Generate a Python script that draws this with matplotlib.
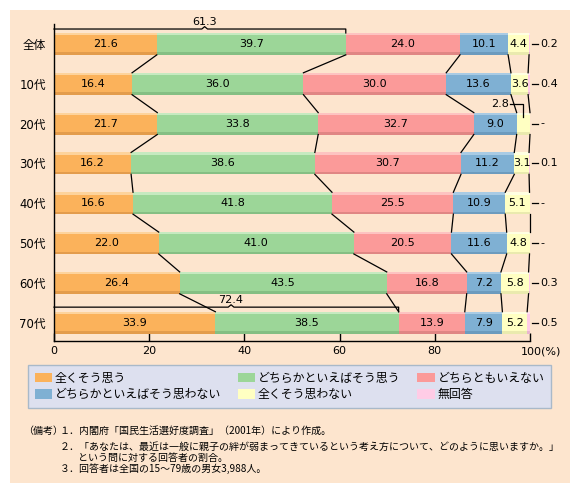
import matplotlib

matplotlib.use("Agg")
import matplotlib.pyplot as plt
from matplotlib.patches import Rectangle, Patch

plt.rcParams["font.family"] = ["DejaVu Sans", "Noto Sans CJK JP"]

rows = ["全体", "10代", "20代", "30代", "40代", "50代", "60代", "70代"]
strongly_agree = [21.6, 16.4, 21.7, 16.2, 16.6, 22.0, 26.4, 33.9]
somewhat_agree = [39.7, 36.0, 33.8, 38.6, 41.8, 41.0, 43.5, 38.5]
neither = [24.0, 30.0, 32.7, 30.7, 25.5, 20.5, 16.8, 13.9]
somewhat_disagree = [10.1, 13.6, 9.0, 11.2, 10.9, 11.6, 7.2, 7.9]
strongly_disagree = [4.4, 3.6, 2.8, 3.1, 5.1, 4.8, 5.8, 5.2]
no_answer = [0.2, 0.4, None, 0.1, None, None, 0.3, 0.5]

series_names = ["全くそう思う", "どちらかといえばそう思う", "どちらともいえない",
                "どちらかといえばそう思わない", "全くそう思わない", "無回答"]
colors = ["#FBB25B", "#9CD698", "#FB9A99", "#7FB0D3", "#FFFFC2", "#FFCCE6"]
light = ["#FDD39C", "#C6EAC0", "#FDC3C1", "#A9CBE4", "#FFFFE2", "#FFE2F0"]
dark = ["#E39C4C", "#85BF83", "#E08684", "#6C9BBE", "#EAEAAE", "#E8B6CF"]

notes = [
    "１．内閣府「国民生活選好度調査」（2001年）により作成。",
    "２．「あなたは、最近は一般に親子の絆が弱まってきているという考え方について、どのように思いますか。」",
    "という問に対する回答者の割合。",
    "３．回答者は全国の15～79歳の男女3,988人。",
]

W, H = 581, 493


def fx(px):
    return px / W


def fy(py):
    return 1 - py / H


fig = plt.figure(figsize=(W / 100, H / 100), dpi=100)
fig.patches.append(Rectangle((fx(10), fy(483)), fx(560), 473 / H, transform=fig.transFigure,
                             fc="#FDE5CE", ec="none", zorder=-1))

ax = fig.add_axes([fx(54), fy(341), 476 / W, 317 / H])
ax.patch.set_visible(False)

data = [strongly_agree, somewhat_agree, neither, somewhat_disagree, strongly_disagree,
        [v if v is not None else 0.0 for v in no_answer]]
ypos = list(range(len(rows)))
bh = 0.55

# stacked bars with a light top edge and a dark bottom edge
lefts = [0.0] * len(rows)
cums = []
for k, vals in enumerate(data):
    ax.barh(ypos, vals, left=lefts, height=bh, color=colors[k], edgecolor="none", zorder=2)
    ax.barh([y - bh / 2 + 0.03 for y in ypos], vals, left=lefts, height=0.06,
            color=light[k], edgecolor="none", zorder=2)
    ax.barh([y + bh / 2 - 0.03 for y in ypos], vals, left=lefts, height=0.06,
            color=dark[k], edgecolor="none", zorder=2)
    for i, v in enumerate(vals):
        if k < 5 and not (k == 4 and v < 3.0):
            ax.text(lefts[i] + v / 2, i, f"{v:.1f}", ha="center", va="center",
                    fontsize=8, zorder=4)
    lefts = [l + v for l, v in zip(lefts, vals)]
    cums.append(list(lefts))

# connector lines between rows
for k in range(5):
    for i in range(len(rows) - 1):
        ax.plot([cums[k][i], cums[k][i + 1]], [i + bh / 2, i + 1 - bh / 2],
                color="black", lw=0.9, zorder=3, clip_on=False)

# no-answer values on the right
for i, v in enumerate(no_answer):
    ax.plot([100.4, 101.7], [i, i], color="black", lw=0.9, clip_on=False)
    ax.text(102.2, i, "-" if v is None else f"{v:.1f}", ha="left", va="center", fontsize=8)

# small segment callout (20代)
i20 = rows.index("20代")
ax.text(95.5, i20 - 0.49, f"{strongly_disagree[i20]:.1f}", ha="right", va="center", fontsize=8)
ax.plot([95.8, 98.6, 98.6], [i20 - 0.5, i20 - 0.5, i20 - 0.17], color="black", lw=0.9,
        clip_on=False, zorder=5)


def bracket(row, y_line, y_label):
    total = strongly_agree[row] + somewhat_agree[row]
    mid = total / 2 + 1.0
    ax.plot([0, mid - 0.6, mid, mid + 0.6, total, total],
            [y_line, y_line, y_line - 0.06, y_line, y_line, row - bh / 2],
            color="black", lw=0.9, clip_on=False, zorder=3)
    ax.text(mid, y_label, f"{total:.1f}", ha="center", va="center", fontsize=8)


bracket(0, -0.374, -0.55)
bracket(7, 6.61, 6.43)

ax.set_xlim(0, 100)
ax.set_ylim(len(rows) - 1 + 0.46, -0.5)
ax.set_yticks(ypos)
ax.set_yticklabels(rows, fontsize=8.4)
ax.tick_params(axis="y", length=0, pad=6)
ax.set_xticks([0, 20, 40, 60, 80, 100])
ax.set_xticklabels([])
ax.tick_params(axis="x", direction="in", length=5.5, width=1)
for t in [0, 20, 40, 60, 80]:
    ax.text(t, -0.032, str(t), transform=ax.get_xaxis_transform(), ha="center", va="center",
            fontsize=8)
ax.text(98.0, -0.032, "100(%)", transform=ax.get_xaxis_transform(), ha="left", va="center",
        fontsize=8)
for s in ["top", "right"]:
    ax.spines[s].set_visible(False)
for s in ["left", "bottom"]:
    ax.spines[s].set_linewidth(1)

# legend
handles = [Patch(facecolor=c, edgecolor="none") for c in colors]
order = [0, 3, 1, 4, 2, 5]
leg = fig.legend([handles[j] for j in order], [series_names[j] for j in order],
                 ncol=3, mode="expand", loc="upper left",
                 bbox_to_anchor=(fx(28), fy(408), 523 / W, 43 / H),
                 prop={"family": "Noto Sans CJK JP", "size": 8.6},
                 handlelength=1.45, handleheight=0.85, handletextpad=0.25,
                 labelspacing=0.3, borderpad=0.55, borderaxespad=0,
                 fancybox=False, framealpha=1)
leg.get_frame().set_facecolor("#DDE0EF")
leg.get_frame().set_edgecolor("#A9B9C9")
leg.get_frame().set_linewidth(1)

# notes
nfont = {"family": "Noto Sans CJK JP", "size": 7.2}
fig.text(fx(23), fy(431), "（備考）", ha="left", va="center", **nfont)
fig.text(fx(60), fy(431), notes[0], ha="left", va="center", **nfont)
fig.text(fx(60), fy(447), notes[1], ha="left", va="center", **nfont)
fig.text(fx(78), fy(458), notes[2], ha="left", va="center", **nfont)
fig.text(fx(60), fy(469), notes[3], ha="left", va="center", **nfont)

fig.savefig("out.png", dpi=100, facecolor="white")
